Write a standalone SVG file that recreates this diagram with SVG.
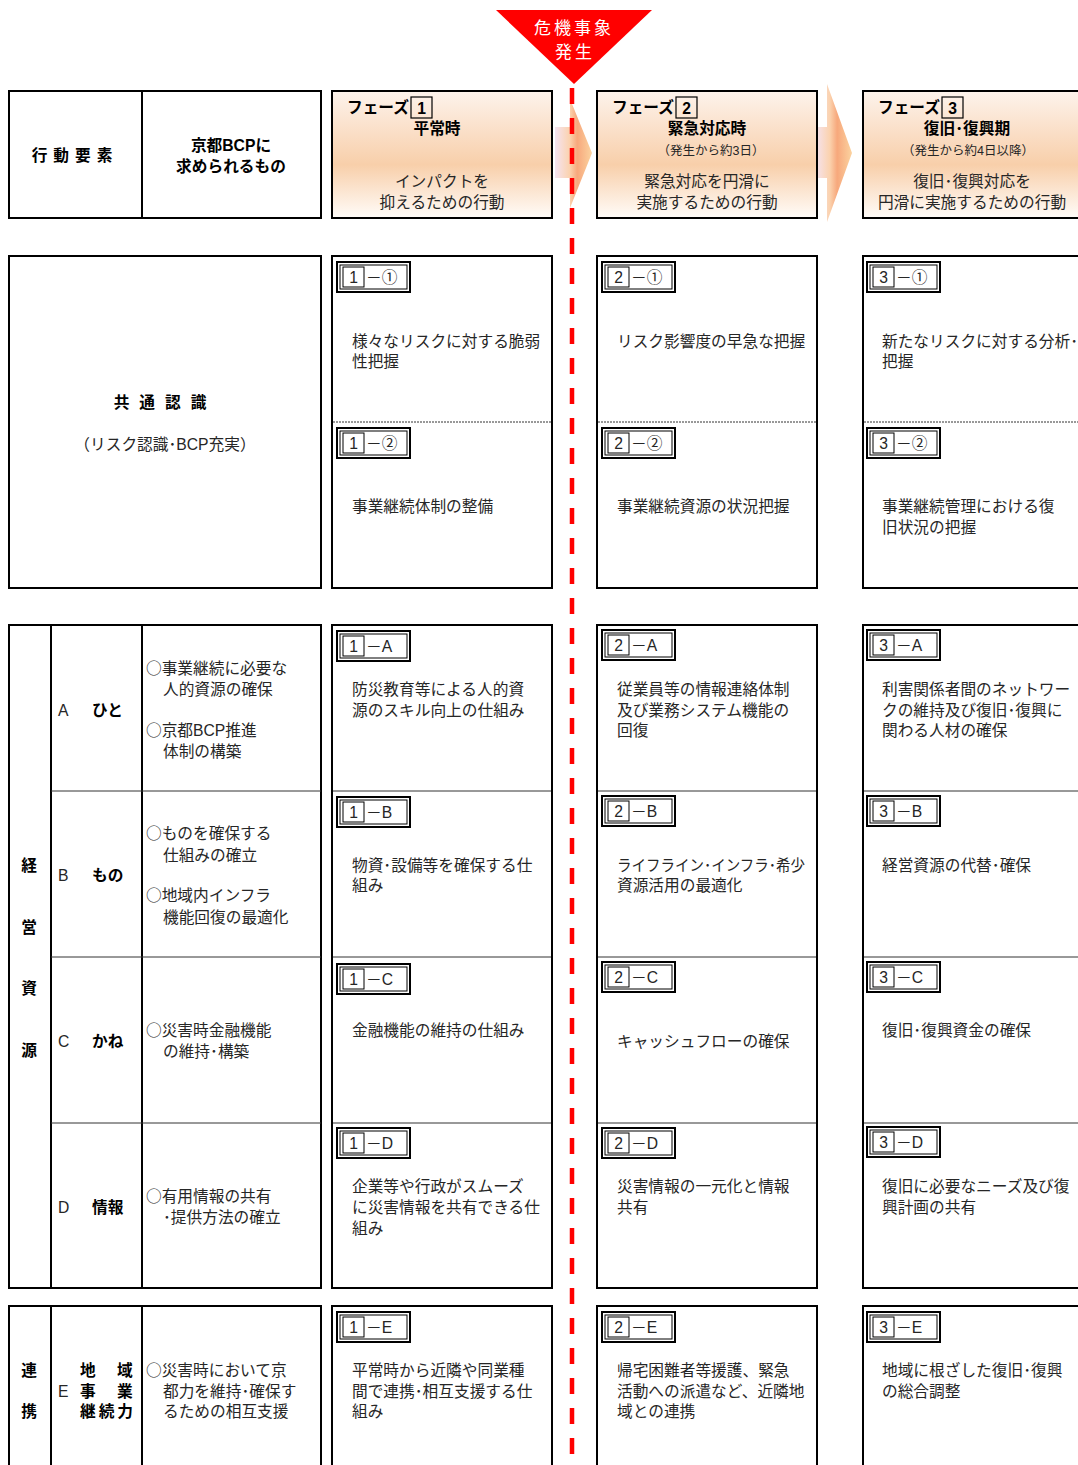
<svg xmlns="http://www.w3.org/2000/svg" xmlns:xlink="http://www.w3.org/1999/xlink" width="1078" height="1465" viewBox="0 0 1078 1465">
<style>
.t{font-family:"Liberation Sans","Noto Sans CJK JP",sans-serif;font-size:15.7px;fill:#262626}
.o{font-family:"Noto Sans CJK JP",sans-serif}
.b{font-weight:bold;fill:#000}
.c{text-anchor:middle}
.s{font-size:12.5px}
.box{fill:#fff;stroke:#000;stroke-width:2}
.ph{fill:url(#phg);stroke:#000;stroke-width:2}
.thin{stroke:#333;stroke-width:1;fill:none}
.dot{stroke:#333;stroke-width:1;stroke-dasharray:2 1;fill:none}
.w{fill:#fff;font-size:17px;letter-spacing:3px;font-family:"Liberation Sans","Noto Sans CJK JP",sans-serif;text-anchor:middle}
</style>
<defs>
<linearGradient id="phg" x1="0" y1="0" x2="0" y2="1">
<stop offset="0" stop-color="#fdf3ec"/>
<stop offset="0.58" stop-color="#f8cfaa"/>
<stop offset="1" stop-color="#fffcf9"/>
</linearGradient>
<linearGradient id="arg" x1="0" y1="0" x2="1" y2="0">
<stop offset="0" stop-color="#f5e4f2"/>
<stop offset="0.4" stop-color="#fbd2ae"/>
<stop offset="0.6" stop-color="#f7a87c"/>
<stop offset="1" stop-color="#fbd3a0"/>
</linearGradient>
<g id="lbl">
<rect x="0" y="0" width="73" height="30" fill="#fff" stroke="#000" stroke-width="2"/>
<rect x="3" y="3" width="67" height="24" fill="none" stroke="#000" stroke-width="1"/>
<rect x="6" y="5" width="21" height="20" fill="#fff" stroke="#000" stroke-width="1"/>
</g>
</defs>
<rect width="1078" height="1465" fill="#fff"/>

<g id="phase-arrows">
<path d="M555,127 H570 V99 L592,153 L570,208 V178 H555 Z" fill="url(#arg)"/>
<path d="M815,127 H827 V84 L852,153 L827,222 V178 H815 Z" fill="url(#arg)"/>
</g>

<g id="crisis-marker">
<polygon points="496,10 652,10 574,84" fill="#ff0000"/>
<text class="w" x="574" y="34">危機事象</text>
<text class="w" x="575" y="58">発生</text>
</g>

<g id="header-left">
<rect class="box" x="9" y="91" width="312" height="127"/>
<line x1="142" y1="91" x2="142" y2="218" stroke="#000" stroke-width="2"/>
<text class="t b c" x="75" y="161" letter-spacing="6">行動要素</text>
<text class="t b c" x="231" y="151">京都BCPに</text>
<text class="t b c" x="231" y="172">求められるもの</text>
</g>

<g id="header-phase1">
<rect class="ph" x="332" y="91" width="220" height="127"/>
<text class="t b" x="347" y="113">フェーズ</text>
<rect x="411" y="97" width="21" height="21" fill="none" stroke="#000" stroke-width="1.2"/>
<text class="t b c" x="421.5" y="114">1</text>
<text class="t b c" x="437" y="134">平常時</text>
<text class="t c" x="442" y="187">インパクトを</text>
<text class="t c" x="442" y="208">抑えるための行動</text>
</g>

<g id="header-phase2">
<rect class="ph" x="597" y="91" width="220" height="127"/>
<text class="t b" x="612" y="113">フェーズ</text>
<rect x="676" y="97" width="21" height="21" fill="none" stroke="#000" stroke-width="1.2"/>
<text class="t b c" x="686.5" y="114">2</text>
<text class="t b c" x="707" y="134">緊急対応時</text>
<text class="t s c" x="711" y="155">（発生から約3日）</text>
<text class="t c" x="707" y="187">緊急対応を円滑に</text>
<text class="t c" x="707" y="208">実施するための行動</text>
</g>

<g id="header-phase3">
<rect class="ph" x="863" y="91" width="222" height="127"/>
<text class="t b" x="878" y="113">フェーズ</text>
<rect x="942" y="97" width="21" height="21" fill="none" stroke="#000" stroke-width="1.2"/>
<text class="t b c" x="952.5" y="114">3</text>
<text class="t b c" x="967" y="134">復旧･復興期</text>
<text class="t s c" x="968" y="155">（発生から約4日以降）</text>
<text class="t c" x="972" y="187">復旧･復興対応を</text>
<text class="t c" x="972" y="208">円滑に実施するための行動</text>
</g>

<g id="common-left">
<rect class="box" x="9" y="256" width="312" height="332"/>
<text class="t b c" x="165" y="408" letter-spacing="10">共通認識</text>
<text class="t c" x="165" y="450">（リスク認識･BCP充実）</text>
</g>

<g id="common-p1">
<rect class="box" x="332" y="256" width="220" height="332"/>
<line class="dot" x1="333" y1="422" x2="551" y2="422"/>
<use xlink:href="#lbl" x="337" y="262"/>
<text class="t c" x="353.5" y="283">1</text><text class="t" x="366" y="283">－①</text>
<text class="t" x="352" y="347">様々なリスクに対する脆弱</text>
<text class="t" x="352" y="367">性把握</text>
<use xlink:href="#lbl" x="337" y="428"/>
<text class="t c" x="353.5" y="449">1</text><text class="t" x="366" y="449">－②</text>
<text class="t" x="352" y="512">事業継続体制の整備</text>
</g>

<g id="common-p2">
<rect class="box" x="597" y="256" width="220" height="332"/>
<line class="dot" x1="598" y1="422" x2="816" y2="422"/>
<use xlink:href="#lbl" x="602" y="262"/>
<text class="t c" x="618.5" y="283">2</text><text class="t" x="631" y="283">－①</text>
<text class="t" x="617" y="347">リスク影響度の早急な把握</text>
<use xlink:href="#lbl" x="602" y="428"/>
<text class="t c" x="618.5" y="449">2</text><text class="t" x="631" y="449">－②</text>
<text class="t" x="617" y="512">事業継続資源の状況把握</text>
</g>

<g id="common-p3">
<rect class="box" x="863" y="256" width="222" height="332"/>
<line class="dot" x1="864" y1="422" x2="1078" y2="422"/>
<use xlink:href="#lbl" x="867" y="262"/>
<text class="t c" x="883.5" y="283">3</text><text class="t" x="896" y="283">－①</text>
<text class="t" x="882" y="347">新たなリスクに対する分析･</text>
<text class="t" x="882" y="367">把握</text>
<use xlink:href="#lbl" x="867" y="428"/>
<text class="t c" x="883.5" y="449">3</text><text class="t" x="896" y="449">－②</text>
<text class="t" x="882" y="512">事業継続管理における復</text>
<text class="t" x="882" y="533">旧状況の把握</text>
</g>

<g id="resources-left">
<rect class="box" x="9" y="625" width="312" height="663"/>
<line x1="51" y1="625" x2="51" y2="1288" stroke="#000" stroke-width="2"/>
<line x1="142" y1="625" x2="142" y2="1288" stroke="#000" stroke-width="2"/>
<line class="thin" x1="51" y1="791" x2="321" y2="791"/>
<line class="thin" x1="51" y1="957" x2="321" y2="957"/>
<line class="thin" x1="51" y1="1123" x2="321" y2="1123"/>
<text class="t b c" x="29" y="871">経</text>
<text class="t b c" x="29" y="933">営</text>
<text class="t b c" x="29" y="994">資</text>
<text class="t b c" x="29" y="1056">源</text>
<text class="t" x="58" y="716">A</text><text class="t b" x="92" y="716">ひと</text>
<text class="t" x="58" y="881">B</text><text class="t b" x="92" y="881">もの</text>
<text class="t" x="58" y="1047">C</text><text class="t b" x="92" y="1047">かね</text>
<text class="t" x="58" y="1213">D</text><text class="t b" x="92" y="1213">情報</text>
<text class="t" x="146" y="674"><tspan class="o">○</tspan>事業継続に必要な</text>
<text class="t" x="163" y="695">人的資源の確保</text>
<text class="t" x="146" y="736"><tspan class="o">○</tspan>京都BCP推進</text>
<text class="t" x="163" y="757">体制の構築</text>
<text class="t" x="146" y="839"><tspan class="o">○</tspan>ものを確保する</text>
<text class="t" x="163" y="861">仕組みの確立</text>
<text class="t" x="146" y="901"><tspan class="o">○</tspan>地域内インフラ</text>
<text class="t" x="163" y="923">機能回復の最適化</text>
<text class="t" x="146" y="1036"><tspan class="o">○</tspan>災害時金融機能</text>
<text class="t" x="163" y="1057">の維持･構築</text>
<text class="t" x="146" y="1202"><tspan class="o">○</tspan>有用情報の共有</text>
<text class="t" x="163" y="1223">･提供方法の確立</text>
</g>

<g id="resources-p1">
<rect class="box" x="332" y="625" width="220" height="663"/>
<line class="thin" x1="333" y1="791" x2="551" y2="791"/>
<line class="thin" x1="333" y1="957" x2="551" y2="957"/>
<line class="thin" x1="333" y1="1123" x2="551" y2="1123"/>
<use xlink:href="#lbl" x="337" y="631"/>
<text class="t c" x="353.5" y="652">1</text><text class="t" x="366" y="652">－A</text>
<text class="t" x="352" y="695">防災教育等による人的資</text>
<text class="t" x="352" y="716">源のスキル向上の仕組み</text>
<use xlink:href="#lbl" x="337" y="797"/>
<text class="t c" x="353.5" y="818">1</text><text class="t" x="366" y="818">－B</text>
<text class="t" x="352" y="871">物資･設備等を確保する仕</text>
<text class="t" x="352" y="891">組み</text>
<use xlink:href="#lbl" x="337" y="964"/>
<text class="t c" x="353.5" y="985">1</text><text class="t" x="366" y="985">－C</text>
<text class="t" x="352" y="1036">金融機能の維持の仕組み</text>
<use xlink:href="#lbl" x="337" y="1128"/>
<text class="t c" x="353.5" y="1149">1</text><text class="t" x="366" y="1149">－D</text>
<text class="t" x="352" y="1192">企業等や行政がスムーズ</text>
<text class="t" x="352" y="1213">に災害情報を共有できる仕</text>
<text class="t" x="352" y="1234">組み</text>
</g>

<g id="resources-p2">
<rect class="box" x="597" y="625" width="220" height="663"/>
<line class="thin" x1="598" y1="791" x2="816" y2="791"/>
<line class="thin" x1="598" y1="957" x2="816" y2="957"/>
<line class="thin" x1="598" y1="1123" x2="816" y2="1123"/>
<use xlink:href="#lbl" x="602" y="630"/>
<text class="t c" x="618.5" y="651">2</text><text class="t" x="631" y="651">－A</text>
<text class="t" x="617" y="695">従業員等の情報連絡体制</text>
<text class="t" x="617" y="716">及び業務システム機能の</text>
<text class="t" x="617" y="736">回復</text>
<use xlink:href="#lbl" x="602" y="796"/>
<text class="t c" x="618.5" y="817">2</text><text class="t" x="631" y="817">－B</text>
<text class="t" x="617" y="871" textLength="188" lengthAdjust="spacingAndGlyphs">ライフライン･インフラ･希少</text>
<text class="t" x="617" y="891">資源活用の最適化</text>
<use xlink:href="#lbl" x="602" y="962"/>
<text class="t c" x="618.5" y="983">2</text><text class="t" x="631" y="983">－C</text>
<text class="t" x="617" y="1047">キャッシュフローの確保</text>
<use xlink:href="#lbl" x="602" y="1128"/>
<text class="t c" x="618.5" y="1149">2</text><text class="t" x="631" y="1149">－D</text>
<text class="t" x="617" y="1192">災害情報の一元化と情報</text>
<text class="t" x="617" y="1213">共有</text>
</g>

<g id="resources-p3">
<rect class="box" x="863" y="625" width="222" height="663"/>
<line class="thin" x1="864" y1="791" x2="1078" y2="791"/>
<line class="thin" x1="864" y1="957" x2="1078" y2="957"/>
<line class="thin" x1="864" y1="1123" x2="1078" y2="1123"/>
<use xlink:href="#lbl" x="867" y="630"/>
<text class="t c" x="883.5" y="651">3</text><text class="t" x="896" y="651">－A</text>
<text class="t" x="882" y="695">利害関係者間のネットワー</text>
<text class="t" x="882" y="716">クの維持及び復旧･復興に</text>
<text class="t" x="882" y="736">関わる人材の確保</text>
<use xlink:href="#lbl" x="867" y="796"/>
<text class="t c" x="883.5" y="817">3</text><text class="t" x="896" y="817">－B</text>
<text class="t" x="882" y="871">経営資源の代替･確保</text>
<use xlink:href="#lbl" x="867" y="962"/>
<text class="t c" x="883.5" y="983">3</text><text class="t" x="896" y="983">－C</text>
<text class="t" x="882" y="1036">復旧･復興資金の確保</text>
<use xlink:href="#lbl" x="867" y="1127"/>
<text class="t c" x="883.5" y="1148">3</text><text class="t" x="896" y="1148">－D</text>
<text class="t" x="882" y="1192">復旧に必要なニーズ及び復</text>
<text class="t" x="882" y="1213">興計画の共有</text>
</g>

<g id="cooperation-left">
<rect class="box" x="9" y="1306" width="312" height="180"/>
<line x1="51" y1="1306" x2="51" y2="1486" stroke="#000" stroke-width="2"/>
<line x1="142" y1="1306" x2="142" y2="1486" stroke="#000" stroke-width="2"/>
<text class="t b c" x="29" y="1376">連</text>
<text class="t b c" x="29" y="1417">携</text>
<text class="t b" x="80" y="1376">地</text><text class="t b" x="117" y="1376">域</text>
<text class="t" x="58" y="1397">E</text>
<text class="t b" x="80" y="1397">事</text><text class="t b" x="117" y="1397">業</text>
<text class="t b" x="80" y="1417" textLength="53" lengthAdjust="spacing">継続力</text>
<text class="t" x="146" y="1376"><tspan class="o">○</tspan>災害時において京</text>
<text class="t" x="163" y="1397">都力を維持･確保す</text>
<text class="t" x="163" y="1417">るための相互支援</text>
</g>

<g id="cooperation-p1">
<rect class="box" x="332" y="1306" width="220" height="180"/>
<use xlink:href="#lbl" x="337" y="1312"/>
<text class="t c" x="353.5" y="1333">1</text><text class="t" x="366" y="1333">－E</text>
<text class="t" x="352" y="1376">平常時から近隣や同業種</text>
<text class="t" x="352" y="1397">間で連携･相互支援する仕</text>
<text class="t" x="352" y="1417">組み</text>
</g>

<g id="cooperation-p2">
<rect class="box" x="597" y="1306" width="220" height="180"/>
<use xlink:href="#lbl" x="602" y="1312"/>
<text class="t c" x="618.5" y="1333">2</text><text class="t" x="631" y="1333">－E</text>
<text class="t" x="617" y="1376">帰宅困難者等援護、緊急</text>
<text class="t" x="617" y="1397">活動への派遣など、近隣地</text>
<text class="t" x="617" y="1417">域との連携</text>
</g>

<g id="cooperation-p3">
<rect class="box" x="863" y="1306" width="222" height="180"/>
<use xlink:href="#lbl" x="867" y="1312"/>
<text class="t c" x="883.5" y="1333">3</text><text class="t" x="896" y="1333">－E</text>
<text class="t" x="882" y="1376">地域に根ざした復旧･復興</text>
<text class="t" x="882" y="1397">の総合調整</text>
</g>

<g id="connectors">
<line x1="572" y1="88" x2="572" y2="1465" stroke="#ff0000" stroke-width="4.5" stroke-dasharray="16 14"/>
</g>
</svg>
